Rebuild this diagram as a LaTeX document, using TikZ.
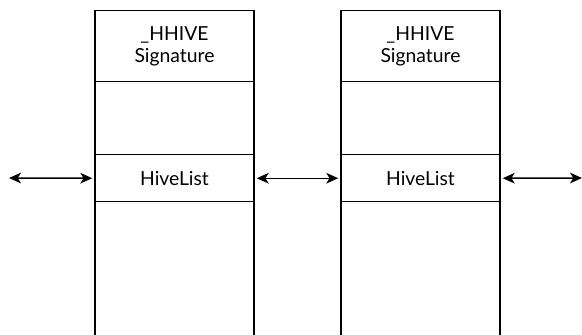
\documentclass[tikz,border=0pt]{standalone}
\usepackage{fontspec}
\setmainfont{Lato}
\usepackage{tikz}
\usetikzlibrary{arrows.meta}

\tikzset{
  cell/.style={draw, line width=1.1pt, minimum width=119.25pt, inner sep=0pt, anchor=north, align=center, font=\fontsize{14.5}{16.5}\selectfont},
  link/.style={line width=1.1pt, {Stealth[length=9pt,width=8pt,inset=2.5pt]}-{Stealth[length=9pt,width=8pt,inset=2.5pt]}}
}

\begin{document}
\begin{tikzpicture}[x=0.75pt,y=-0.75pt]
    \useasboundingbox (0,0) rectangle (582,335);
    \clip (0,0) rectangle (582,335);

    % first hive
    \node[cell, minimum height=53.25pt] (sigA) at (174.5,10) {\_HHIVE\\Signature};
    \node[cell, minimum height=54.75pt] (gapA) at (174.5,81) {};
    \node[cell, minimum height=35.25pt] (listA) at (174.5,154) {HiveList};
    \node[cell, minimum height=120pt] (restA) at (174.5,201) {};

    % second hive
    \node[cell, minimum height=53.25pt] (sigB) at (420.5,10) {\_HHIVE\\Signature};
    \node[cell, minimum height=54.75pt] (gapB) at (420.5,81) {};
    \node[cell, minimum height=35.25pt] (listB) at (420.5,154) {HiveList};
    \node[cell, minimum height=120pt] (restB) at (420.5,201) {};

    \coordinate (prev) at (9,178);
    \coordinate (next) at (582,178);

    \draw[link] (prev) -- ([xshift=-1.5pt]listA.west);
    \draw[link] ([xshift=1.5pt]listA.east) -- ([xshift=-1.5pt]listB.west);
    \draw[link] ([xshift=1.5pt]listB.east) -- (next);

\end{tikzpicture}
\end{document}
